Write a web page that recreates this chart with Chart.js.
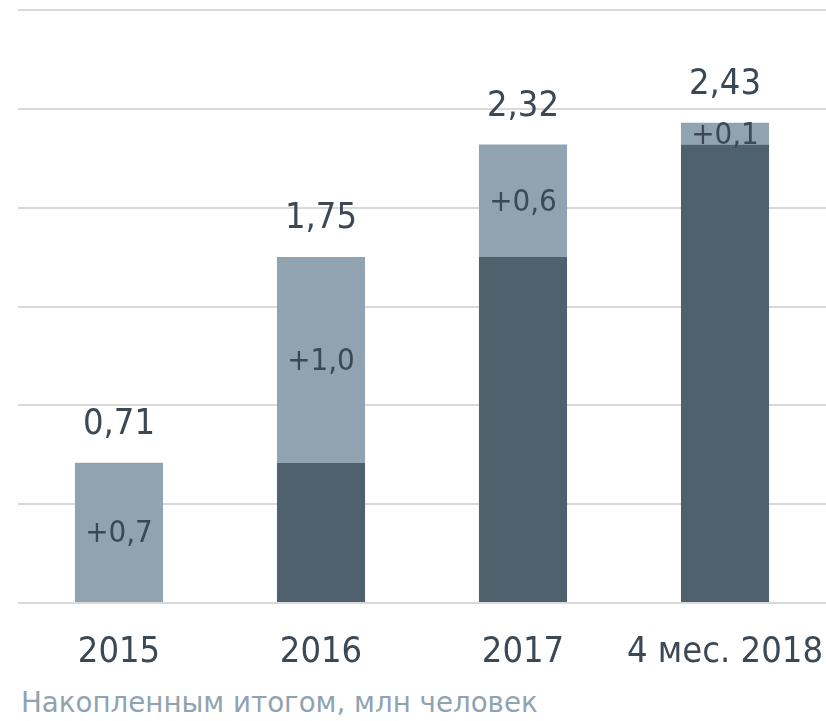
<!DOCTYPE html>
<html>
<head>
<meta charset="utf-8">
<script src="https://cdn.jsdelivr.net/npm/chart.js@4"></script>
<style>
  html, body { margin: 0; padding: 0; background: #ffffff; }
  #wrap { position: relative; width: 826px; height: 721px; }
  canvas { display: block; }
  #caption { position: absolute; left: 21px; top: 687px; font-family: "DejaVu Sans", sans-serif; font-size: 27.7px; line-height: 32px; color: #8fa3b2; white-space: nowrap; }
</style>
</head>
<body>
<div id="wrap">
  <canvas id="c" width="826" height="680"></canvas>
  <div id="caption">Накопленным итогом, млн человек</div>
</div>
<script>
const categories = ['2015', '2016', '2017', '4 мес. 2018'];
const baseValues = [0, 0.71, 1.75, 2.32];
const incrementValues = [0.71, 1.04, 0.57, 0.11];
const totalLabels = ['0,71', '1,75', '2,32', '2,43'];
const incrementLabels = ['+0,7', '+1,0', '+0,6', '+0,1'];

const FONT = '"DejaVu Sans Condensed", "DejaVu Sans", sans-serif';
const TEXT = '#3c4954';

const labelPlugin = {
  id: 'labels',
  afterDatasetsDraw(chart) {
    const ctx = chart.ctx;
    const incMeta = chart.getDatasetMeta(1);
    ctx.save();
    ctx.fillStyle = TEXT;
    ctx.textAlign = 'center';
    ctx.textBaseline = 'middle';
    incMeta.data.forEach((bar, i) => {
      const p = bar.getProps(['x', 'y', 'base'], true);
      ctx.font = '31px ' + FONT;
      ctx.fillText(incrementLabels[i], p.x, (p.y + p.base) / 2 + 2);
      ctx.font = '36px ' + FONT;
      ctx.fillText(totalLabels[i], p.x, p.y - 38);
    });
    ctx.restore();
  }
};

new Chart(document.getElementById('c'), {
  type: 'bar',
  data: {
    labels: categories,
    datasets: [
      { label: 'База', data: baseValues, backgroundColor: '#50616e', borderWidth: 0,
        categoryPercentage: 1, barPercentage: 0.436 },
      { label: 'Прирост', data: incrementValues, backgroundColor: '#91a3b0', borderWidth: 0,
        categoryPercentage: 1, barPercentage: 0.436 }
    ]
  },
  options: {
    responsive: false,
    animation: false,
    layout: { padding: { left: 18, right: 0, top: 10, bottom: 6 } },
    plugins: { legend: { display: false }, tooltip: { enabled: false }, title: { display: false } },
    scales: {
      x: {
        stacked: true,
        grid: { display: false, drawTicks: false },
        border: { display: false },
        ticks: { color: TEXT, font: { family: FONT, size: 36 }, padding: 28, maxRotation: 0, autoSkip: false },
        afterFit(scale) { scale.paddingLeft = 0; scale.paddingRight = 0; scale.height = 71; }
      },
      y: {
        stacked: true,
        min: 0, max: 3,
        ticks: { display: false, stepSize: 0.5 },
        grid: { color: '#d9d9d9', lineWidth: 2, drawTicks: false },
        border: { display: false }
      }
    }
  },
  plugins: [labelPlugin]
});
</script>
</body>
</html>
